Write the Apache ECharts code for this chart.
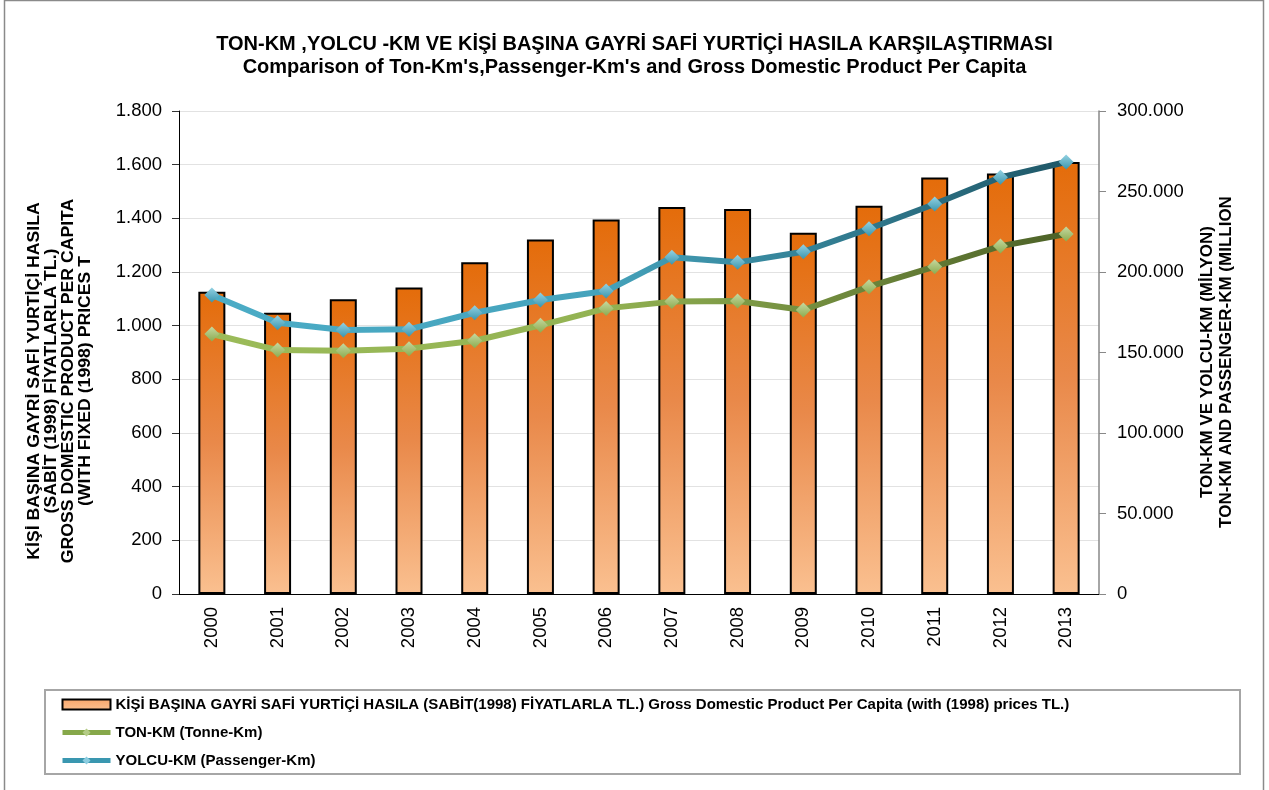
<!DOCTYPE html>
<html>
<head>
<meta charset="utf-8">
<script src="https://cdn.jsdelivr.net/npm/echarts@6/dist/echarts.min.js"></script>
<style>html,body{margin:0;padding:0;background:#fff;}#c{width:1269px;height:790px;}</style>
</head>
<body>
<div id="c"></div>
<script>
const years = ['2000','2001','2002','2003','2004','2005','2006','2007','2008','2009','2010','2011','2012','2013'];
const gdpPerCapita = [1126, 1048, 1098, 1142, 1236, 1321, 1396, 1442, 1435, 1346, 1447, 1552, 1567, 1610];
const tonKm = [161500, 151500, 151100, 152400, 157300, 166900, 177400, 181600, 182000, 176400, 190900, 203300, 216100, 223600];
const passengerKm = [185700, 168500, 164000, 164400, 174700, 182600, 188200, 209100, 206000, 212600, 226900, 242200, 258800, 268300];

const leftTicks = {min: 0, max: 1800, interval: 200};
const rightTicks = {min: 0, max: 300000, interval: 50000};

const titleText = 'TON-KM ,YOLCU -KM VE KİŞİ BAŞINA GAYRİ SAFİ YURTİÇİ HASILA KARŞILAŞTIRMASI';
const subTitleText = "Comparison of Ton-Km's,Passenger-Km's and Gross Domestic Product Per Capita";
const leftAxisName = 'KİŞİ BAŞINA GAYRİ SAFİ YURTİÇİ HASILA\n(SABİT (1998) FİYATLARLA TL.)\nGROSS DOMESTIC PRODUCT PER CAPITA\n(WITH FIXED (1998) PRICES T';
const rightAxisName = 'TON-KM VE YOLCU-KM (MİLYON)\nTON-KM AND PASSENGER-KM (MILLION';
const seriesNames = [
  'KİŞİ BAŞINA GAYRİ SAFİ YURTİÇİ HASILA (SABİT(1998) FİYATLARLA TL.) Gross Domestic Product Per Capita (with (1998) prices TL.)',
  'TON-KM (Tonne-Km)',
  'YOLCU-KM (Passenger-Km)'
];

const FONT = '"Liberation Sans", Arial, sans-serif';
function fmt(v){ return String(v).replace(/\B(?=(\d{3})+(?!\d))/g, '.'); }
const G = echarts.graphic;

const chart = echarts.init(document.getElementById('c'), null, {renderer: 'canvas'});
chart.setOption({
  backgroundColor: '#fff',
  animation: false,
  textStyle: {fontFamily: FONT},
  title: [
    {text: titleText, left: 'center', top: 29, textStyle: {fontFamily: FONT, fontSize: 20, fontWeight: 'bold', color: '#000'}},
    {text: subTitleText, left: 'center', top: 52, textStyle: {fontFamily: FONT, fontSize: 20, fontWeight: 'bold', color: '#000'}}
  ],
  grid: {left: 179, right: 170, top: 111, bottom: 196, containLabel: false},
  legend: {
    orient: 'vertical', left: 60, top: 697, padding: 0,
    itemWidth: 48, itemHeight: 10, itemGap: 13,
    textStyle: {fontFamily: FONT, fontSize: 15, fontWeight: 'bold', color: '#000', lineHeight: 15},
    data: [
      {name: seriesNames[0], icon: 'rect', itemStyle: {color: new G.LinearGradient(0,0,0,1,[{offset:0,color:'#f9a66a'},{offset:1,color:'#fac090'}]), borderColor: '#000', borderWidth: 2}},
      {name: seriesNames[1], lineStyle: {color: '#86a84a', width: 5}, itemStyle: {color: '#b4cc86', borderWidth: 0}},
      {name: seriesNames[2], lineStyle: {color: '#3a97b0', width: 5}, itemStyle: {color: '#8ccde0', borderWidth: 0}}
    ]
  },
  xAxis: {
    type: 'category', data: years, boundaryGap: true,
    axisLine: {lineStyle: {color: '#000', width: 1}},
    axisTick: {show: false},
    axisLabel: {rotate: 90, fontSize: 18.5, color: '#000', fontFamily: FONT, margin: 13}
  },
  yAxis: [
    {
      type: 'value', min: leftTicks.min, max: leftTicks.max, interval: leftTicks.interval, position: 'left',
      axisLine: {show: true, lineStyle: {color: '#000', width: 1}},
      axisTick: {show: true, length: 7, lineStyle: {color: '#333'}},
      axisLabel: {formatter: fmt, fontSize: 18.5, color: '#000', fontFamily: FONT, margin: 17},
      splitLine: {show: true, lineStyle: {color: '#e2e2e2', width: 1}}
    },
    {
      type: 'value', min: rightTicks.min, max: rightTicks.max, interval: rightTicks.interval, position: 'right',
      axisLine: {show: true, lineStyle: {color: '#888', width: 1.5}},
      axisTick: {show: true, length: 7, lineStyle: {color: '#888'}},
      axisLabel: {formatter: fmt, fontSize: 18.5, color: '#000', fontFamily: FONT, margin: 18},
      splitLine: {show: false}
    }
  ],
  series: [
    {
      name: seriesNames[0], type: 'bar', yAxisIndex: 0, data: gdpPerCapita, barWidth: 27,
      itemStyle: {
        color: new G.LinearGradient(0,0,0,1,[{offset:0,color:'#e46c0a'},{offset:0.5,color:'#e9894a'},{offset:1,color:'#fac090'}]),
        borderColor: '#000', borderWidth: 2
      },
      z: 1
    },
    {
      name: seriesNames[1], type: 'line', yAxisIndex: 1, data: tonKm,
      symbol: 'diamond', symbolSize: 15, showSymbol: true,
      lineStyle: {width: 6, color: new G.LinearGradient(0,0,1,0,[{offset:0,color:'#9bbb59'},{offset:0.45,color:'#93b353'},{offset:1,color:'#4c6127'}])},
      itemStyle: {color: new G.LinearGradient(0,0,0,1,[{offset:0,color:'#c6d9a0'},{offset:1,color:'#8cab50'}]), borderWidth: 0},
      z: 3
    },
    {
      name: seriesNames[2], type: 'line', yAxisIndex: 1, data: passengerKm,
      symbol: 'diamond', symbolSize: 15, showSymbol: true,
      lineStyle: {width: 6, color: new G.LinearGradient(0,0,1,0,[{offset:0,color:'#4bacc6'},{offset:0.45,color:'#45a3bc'},{offset:1,color:'#1f5767'}])},
      itemStyle: {color: new G.LinearGradient(0,0,0,1,[{offset:0,color:'#93d2e3'},{offset:1,color:'#3b95ad'}]), borderWidth: 0},
      z: 4
    }
  ],
  graphic: [
    {type: 'rect', shape: {x: 4.5, y: 0.5, width: 1259, height: 800}, style: {fill: 'none', stroke: '#8a8a8a', lineWidth: 1.5}, silent: true, z: -10},
    {type: 'rect', shape: {x: 45, y: 690, width: 1195, height: 84}, style: {fill: 'none', stroke: '#a6a6a6', lineWidth: 2}, silent: true, z: -10},
    {type: 'text', x: 60, y: 381, rotation: Math.PI/2, scaleX: 1.07, scaleY: 1,
      style: {text: leftAxisName, font: 'bold 16.5px ' + FONT, fill: '#000', align: 'center', verticalAlign: 'middle', lineHeight: 16.7}, silent: true},
    {type: 'text', x: 1217, y: 362, rotation: Math.PI/2,
      style: {text: rightAxisName, font: 'bold 17px ' + FONT, fill: '#000', align: 'center', verticalAlign: 'middle', lineHeight: 19}, silent: true}
  ]
});
</script>
</body>
</html>
